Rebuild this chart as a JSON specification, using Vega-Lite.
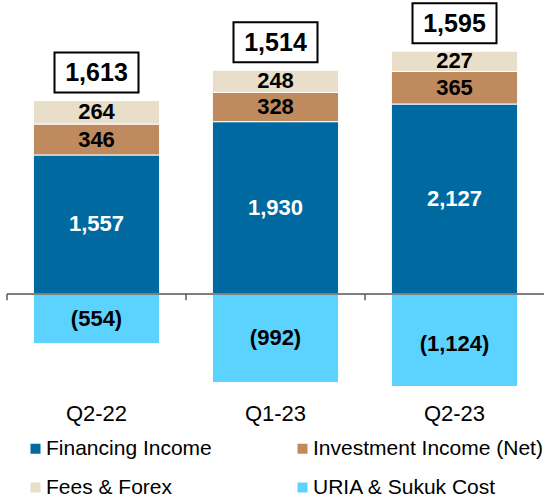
{
  "$schema": "https://vega.github.io/schema/vega-lite/v6.json",
  "width": 537,
  "height": 386,
  "autosize": {"type": "none"},
  "padding": {"left": 7, "top": 0, "right": 1, "bottom": 114},
  "config": {"view": {"stroke": null}, "font": "Liberation Sans"},
  "data": {
    "values": [
      {"quarter": "Q2-22", "series": "Financing Income", "value": 1557},
      {"quarter": "Q2-22", "series": "Investment Income (Net)", "value": 346},
      {"quarter": "Q2-22", "series": "Fees & Forex", "value": 264},
      {"quarter": "Q2-22", "series": "URIA & Sukuk Cost", "value": -554},
      {"quarter": "Q1-23", "series": "Financing Income", "value": 1930},
      {"quarter": "Q1-23", "series": "Investment Income (Net)", "value": 328},
      {"quarter": "Q1-23", "series": "Fees & Forex", "value": 248},
      {"quarter": "Q1-23", "series": "URIA & Sukuk Cost", "value": -992},
      {"quarter": "Q2-23", "series": "Financing Income", "value": 2127},
      {"quarter": "Q2-23", "series": "Investment Income (Net)", "value": 365},
      {"quarter": "Q2-23", "series": "Fees & Forex", "value": 227},
      {"quarter": "Q2-23", "series": "URIA & Sukuk Cost", "value": -1124}
    ]
  },
  "layer": [
    {
      "mark": {"type": "bar", "width": {"band": 0.705}, "stroke": "white", "strokeWidth": 1, "clip": true},
      "encoding": {
        "x": {
          "field": "quarter", "type": "nominal", "sort": ["Q2-22", "Q1-23", "Q2-23"],
          "scale": {"paddingInner": 0, "paddingOuter": 0},
          "axis": {"orient": "bottom", "title": null, "domain": false, "ticks": false, "tickSize": 0, "labelPadding": 17, "labelFontSize": 22, "labelColor": "black", "labelAngle": 0}
        },
        "y": {
          "field": "value", "type": "quantitative", "stack": "zero",
          "scale": {"domain": [-1030, 3292], "nice": false, "zero": false},
          "axis": null
        },
        "order": {"field": "value", "sort": "descending"},
        "color": {
          "field": "series", "type": "nominal",
          "sort": ["Financing Income", "Investment Income (Net)", "Fees & Forex", "URIA & Sukuk Cost"],
          "scale": {
            "domain": ["Financing Income", "Investment Income (Net)", "Fees & Forex", "URIA & Sukuk Cost"],
            "range": ["#006AA0", "#BE8A5E", "#E8DECA", "#5CD3FF"]
          },
          "legend": {
            "orient": "none", "legendX": 18, "legendY": 438, "direction": "horizontal", "columns": 2, "title": null,
            "symbolType": "square", "symbolSize": 100, "symbolStrokeWidth": 0,
            "labelFontSize": 21, "labelColor": "black", "labelOffset": 0, "labelLimit": 400,
            "columnPadding": 80, "rowPadding": 17, "padding": 0
          }
        }
      }
    },
    {
      "mark": {"type": "text", "fontSize": 22, "fontWeight": "bold", "baseline": "middle", "align": "center"},
      "encoding": {
        "x": {"field": "quarter", "type": "nominal", "sort": ["Q2-22", "Q1-23", "Q2-23"]},
        "y": {"field": "value", "type": "quantitative", "stack": "zero", "bandPosition": 0.5},
        "order": {"field": "value", "sort": "descending"},
        "text": {"field": "value", "type": "quantitative", "format": "(,.0f"},
        "color": {
          "field": "series", "type": "nominal",
          "scale": {
            "domain": ["Financing Income", "Investment Income (Net)", "Fees & Forex", "URIA & Sukuk Cost"],
            "range": ["white", "black", "black", "black"]
          },
          "legend": null
        }
      }
    },
    {
      "mark": {"type": "rule", "color": "#7F7F7F", "strokeWidth": 2},
      "encoding": {"y": {"datum": 0}}
    },
    {
      "transform": [{"filter": "datum.series == 'Financing Income'"}],
      "mark": {"type": "rule", "color": "#595959", "strokeWidth": 1.5},
      "encoding": {
        "x": {"field": "quarter", "type": "nominal", "sort": ["Q2-22", "Q1-23", "Q2-23"], "bandPosition": 0},
        "y": {"datum": 0},
        "y2": {"datum": -70}
      }
    },
    {
      "transform": [
        {"joinaggregate": [{"op": "sum", "field": "value", "as": "total"}], "groupby": ["quarter"]},
        {"filter": "datum.value > 0"},
        {"aggregate": [{"op": "sum", "field": "value", "as": "top"}], "groupby": ["quarter", "total"]}
      ],
      "layer": [
        {
          "mark": {"type": "point", "shape": "M-1,-0.476H1V0.476H-1Z", "size": 7056, "filled": true, "fill": "white", "stroke": "black", "strokeWidth": 2, "opacity": 1, "yOffset": -28},
          "encoding": {
            "x": {"field": "quarter", "type": "nominal", "sort": ["Q2-22", "Q1-23", "Q2-23"]},
            "y": {"field": "top", "type": "quantitative"}
          }
        },
        {
          "mark": {"type": "text", "fontSize": 25, "fontWeight": "bold", "baseline": "middle", "align": "center", "color": "black", "yOffset": -27},
          "encoding": {
            "x": {"field": "quarter", "type": "nominal", "sort": ["Q2-22", "Q1-23", "Q2-23"]},
            "y": {"field": "top", "type": "quantitative"},
            "text": {"field": "total", "type": "quantitative", "format": ",.0f"}
          }
        }
      ]
    }
  ],
  "resolve": {"scale": {"color": "independent"}}
}
